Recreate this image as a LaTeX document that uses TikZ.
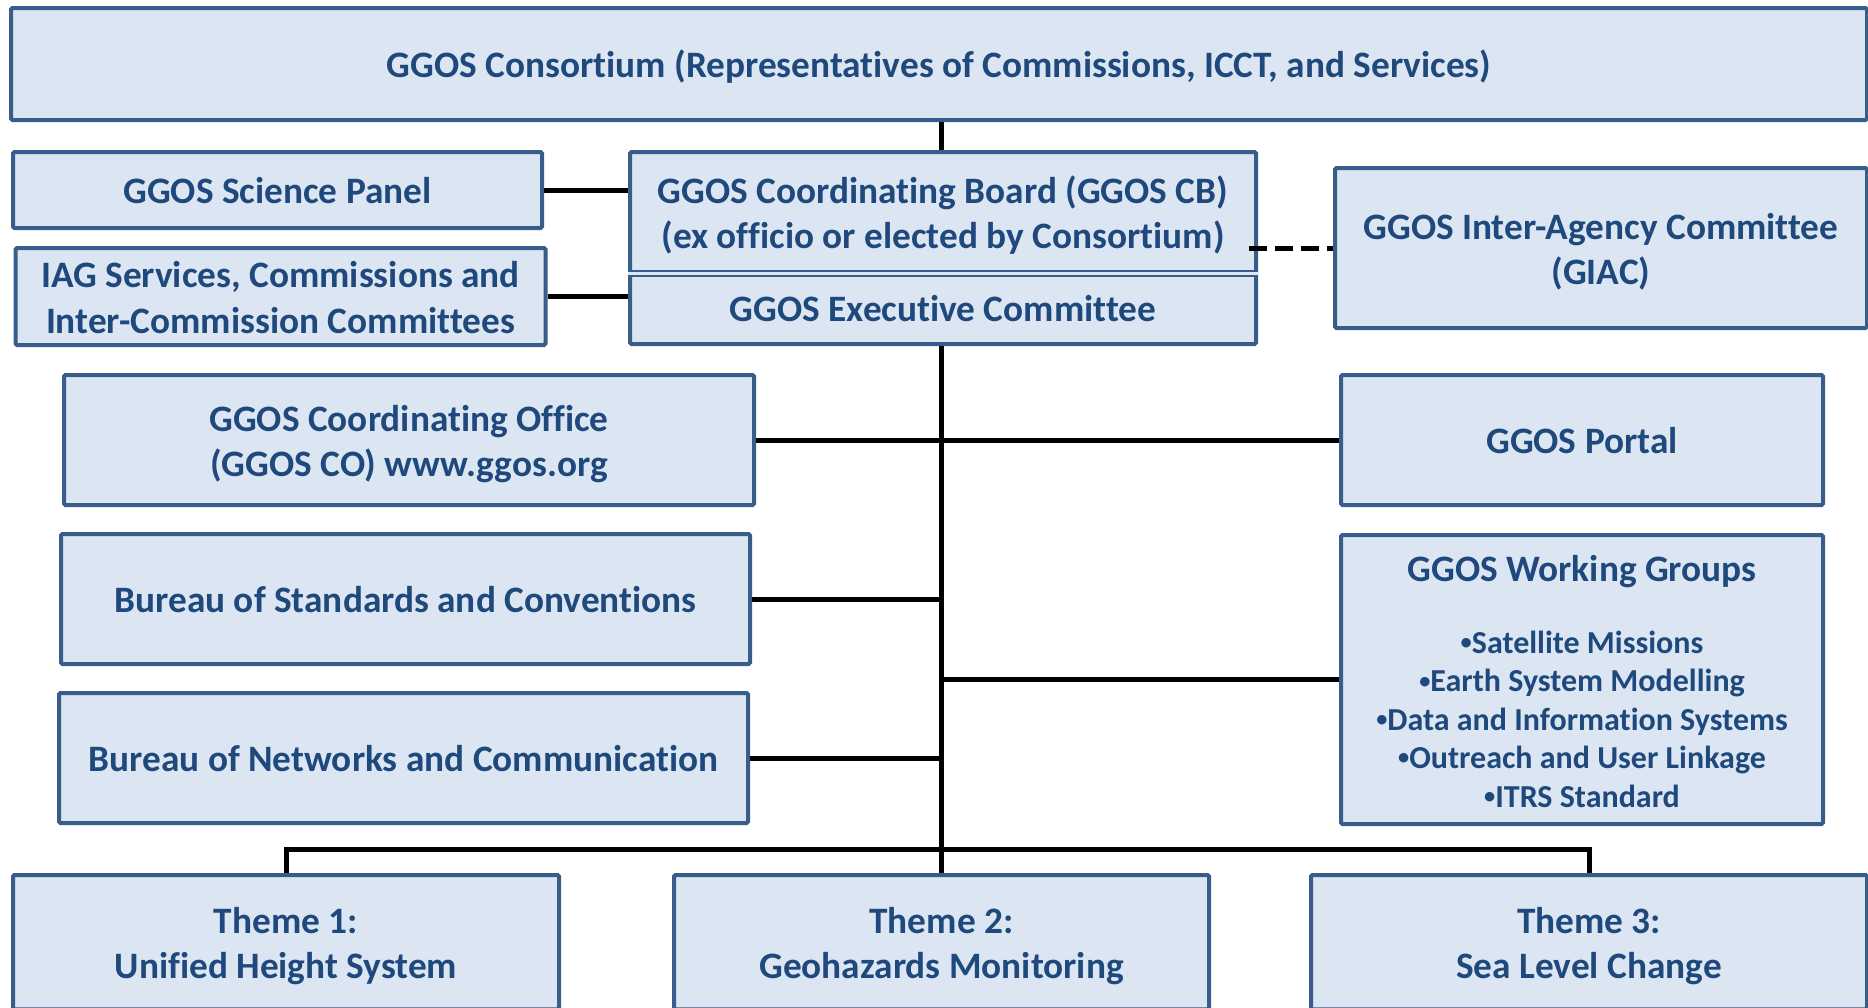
\documentclass[tikz,border=0pt]{standalone}
\usepackage{fontspec}
\setmainfont{Carlito}[Ligatures=NoCommon]
\definecolor{boxfill}{HTML}{DCE6F2}
\definecolor{boxline}{HTML}{385D8A}
\definecolor{boxtext}{HTML}{1F497D}
\newcommand\wgbullet{\raisebox{0.12em}{\scalebox{0.7}{•}}}
% fixed line metrics so that every text block is centred the same way
\newcommand\mainstrut{\rule[-8.95pt]{0pt}{45.5pt}}
\newcommand\itemstrut{\rule[-8.9pt]{0pt}{38.4pt}}
\tikzset{
  maintext/.style={text=boxtext, font=\bfseries\fontsize{37.3}{45.5}\selectfont, align=center, inner sep=0pt,
    execute at end node=\mainstrut},
  box/.style={maintext, draw=boxline, line width=4pt, fill=boxfill, rounded corners=1.5pt},
  label/.style={maintext},
  items/.style={text=boxtext, font=\bfseries\fontsize{32}{38.4}\selectfont, align=center, inner sep=0pt,
    execute at end node=\itemstrut},
  link/.style={line width=5pt, black},
  sep/.style={draw=boxline, line width=2pt, double=boxfill, double distance=3pt},
}
\begin{document}
\begin{tikzpicture}[x=1pt,y=-1pt]
\clip (0,0) rectangle (1868,1007);

% consortium
\node[box, minimum width=1856pt, minimum height=112pt] (cons) at (939,64)
  {GGOS Consortium (Representatives of Commissions, ICCT, and Services)};

% left column, upper part
\node[box, minimum width=529pt, minimum height=76pt] (sci) at (277.5,190) {GGOS Science Panel};
\node[box, minimum width=530pt, minimum height=97pt] (iag) at (280.5,296.5)
  {\mainstrut IAG Services, Commissions and\\Inter-Commission Committees};

% coordinating board with executive committee
\node[box, minimum width=626pt, minimum height=192pt] (cb) at (943,248) {};
\node[label] (cbtext) at (943,212.2) {\mainstrut GGOS Coordinating Board (GGOS CB)\\(ex officio or elected by Consortium)};
\node[label] (ec) at (943,307.5) {GGOS Executive Committee};
\draw[sep] ([yshift=-25pt]cb.west) -- ([yshift=-25pt]cb.east);

% inter-agency committee
\node[box, minimum width=532pt, minimum height=160pt] (giac) at (1601,248)
  {\mainstrut GGOS Inter-Agency Committee\\(GIAC)};

% office, bureaus, portal, working groups
\node[box, minimum width=690pt, minimum height=130pt] (co) at (409,440)
  {\mainstrut GGOS Coordinating Office\\(GGOS CO) www.ggos.org};
\node[box, minimum width=482pt, minimum height=130pt] (portal) at (1582,440) {GGOS Portal};
\node[box, minimum width=689pt, minimum height=130pt] (std) at (405.5,599)
  {Bureau of Standards and Conventions};
\node[box, minimum width=689pt, minimum height=130pt] (net) at (403.5,758)
  {Bureau of Networks and Communication};
\node[box, minimum width=482pt, minimum height=289pt] (wg) at (1582,679.5) {};
\node[label] (wgtitle) at (1582,568) {GGOS Working Groups};
\node[items] (wgitems) at (1582,720)
  {\itemstrut\wgbullet Satellite Missions\\\wgbullet Earth System Modelling\\\wgbullet Data and Information Systems\\\wgbullet Outreach and User Linkage\\\wgbullet ITRS Standard};

% themes
\node[box, minimum width=546pt, minimum height=134.4pt] (t1) at (286,942.2) {\mainstrut Theme 1:\\Unified Height System};
\node[box, minimum width=535pt, minimum height=134.4pt] (t2) at (941.5,942.2) {\mainstrut Theme 2:\\Geohazards Monitoring};
\node[box, minimum width=556pt, minimum height=134.4pt] (t3) at (1589,942.2) {\mainstrut Theme 3:\\Sea Level Change};

% connectors
\coordinate (trunk) at (941,0);
\coordinate (bus) at (941,849);
\draw[link] (cons.south -| trunk) -- (cb.north -| trunk);
\draw[link] (sci.east) -- (sci.east -| cb.west);
\draw[link] (iag.east) -- (iag.east -| cb.west);
\draw[link, dash pattern=on 18pt off 8pt] ([xshift=-9pt]cb.east) -- (giac.west);
\draw[link] (cb.south -| trunk) -- (t2.north -| trunk);
\draw[link] (co.east) -- (portal.west);
\draw[link] (std.east) -- (std.east -| trunk);
\draw[link] (net.east) -- (net.east -| trunk);
\draw[link] (wg.west) -- (wg.west -| trunk);
\draw[link] (t1.north) |- (bus) -| (t3.north);
\end{tikzpicture}
\end{document}
